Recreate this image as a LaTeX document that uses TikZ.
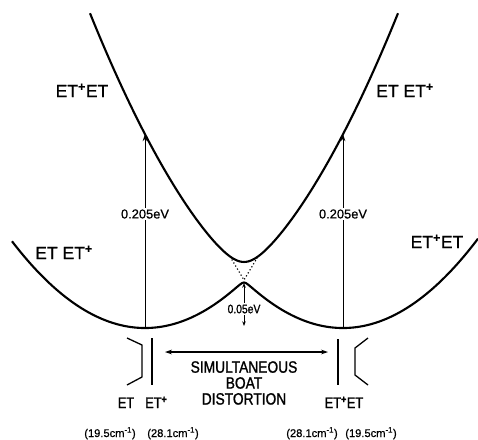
\documentclass[tikz,border=0pt]{standalone}
\usepackage{fontspec}
\setmainfont{Liberation Sans}[FakeBold=0.6]
\newfontfamily\narrowfont{Liberation Sans}[FakeStretch=0.84, FakeBold=1.2]
\usetikzlibrary{arrows.meta}
\newcommand{\ionp}{\textsuperscript{\bfseries +}}

\begin{document}
\begin{tikzpicture}[x=0.03cm, y=-0.03cm,
	declare function={eL(\x)=(0.07*(\x-145))^2; eR(\x)=(0.07*(\x-343))^2;
		eUp(\x)=(eL(\x)+eR(\x))/2+veclen(0.9702*(\x-244),18);
		eLo(\x)=(eL(\x)+eR(\x))/2-veclen(0.9702*(\x-244),2.5);},
	curve/.style={line width=1.8pt},
	gap/.style={-{Stealth[length=6pt,width=4pt]}, line width=0.8pt},
	bracket/.style={line width=1.1pt},
	big/.style={anchor=base, font=\fontsize{15}{18}\selectfont},
	small/.style={fill=white, inner sep=1pt, font=\fontsize{11}{13}\selectfont}]
	\useasboundingbox (0,0) rectangle (478,439);
	% potential curves
	\draw [curve] plot [domain=12:478, samples=234] (\x,{328-eLo(\x)});
	\draw [curve] plot [domain=90:398, samples=155] (\x,{328-eUp(\x)});
	\coordinate (cross) at (244,280);
	\coordinate (dotL) at (230,{328-eUp(230)});
	\coordinate (dotR) at (258,{328-eUp(258)});
	\draw [dotted, line width=1pt] (dotL) -- (cross) -- (dotR);
	% excitation arrows
	\coordinate (minL) at (145,328);
	\coordinate (minR) at (343,328);
	\coordinate (topL) at (145,{328-eUp(145)});
	\coordinate (topR) at (343,{328-eUp(343)});
	\draw [gap] (minL) -- (topL);
	\draw [gap] (minR) -- (topR);
	\node [small] (gapL) at (145,214) {0.205eV};
	\node [small] (gapR) at (343,214) {0.205eV};
	\coordinate (peak) at (244,283);
	\coordinate (foot) at (244,326);
	\draw [{Stealth[length=4pt,width=3pt]}-{Stealth[length=4pt,width=3pt]}, line width=0.7pt] (peak) -- (foot);
	\node [fill=white, inner sep=1pt, font=\narrowfont\fontsize{10.5}{12}\selectfont] (split) at (244,309) {0.05eV};
	% state labels
	\node [big] (upL) at (82,97) {ET\ionp ET};
	\node [big] (upR) at (405,97) {ET ET\ionp};
	\node [big] (loL) at (64,259) {ET ET\ionp};
	\node [big] (loR) at (437,248) {ET\ionp ET};
	% molecule shapes
	\draw [bracket] (127,338) -- (142,345) -- (142,377) -- (127,385);
	\draw [bracket] (152,338) -- (152,385);
	\draw [bracket] (338,339) -- (338,385);
	\draw [bracket] (368,338) -- (355,348) -- (355,375) -- (368,385);
	\coordinate (distL) at (165,352);
	\coordinate (distR) at (328,352);
	\draw [{Stealth[length=6pt,width=4pt]}-{Stealth[length=6pt,width=4pt]}, line width=0.9pt] (distL) -- (distR);
	\node [anchor=north, inner sep=0pt, align=center, font=\narrowfont\fontsize{14}{13.6}\selectfont] (boat) at (244,361) {SIMULTANEOUS\\BOAT\\DISTORTION};
	\node [anchor=base, font=\narrowfont\fontsize{13}{15}\selectfont] (etA) at (126,408) {ET};
	\node [anchor=base west, inner sep=0pt, font=\narrowfont\fontsize{13}{15}\selectfont] (etB) at (145,408) {ET\ionp};
	\node [anchor=base, font=\narrowfont\fontsize{13}{15}\selectfont] (etC) at (344,408) {ET\ionp ET};
	\node [anchor=base, font=\fontsize{9.5}{11}\selectfont] (freqA) at (110,437) {(19.5cm\textsuperscript{-1})};
	\node [anchor=base, font=\fontsize{9.5}{11}\selectfont] (freqB) at (173,437) {(28.1cm\textsuperscript{-1})};
	\node [anchor=base, font=\fontsize{9.5}{11}\selectfont] (freqC) at (312,437) {(28.1cm\textsuperscript{-1})};
	\node [anchor=base, font=\fontsize{9.5}{11}\selectfont] (freqD) at (371,437) {(19.5cm\textsuperscript{-1})};
\end{tikzpicture}
\end{document}
